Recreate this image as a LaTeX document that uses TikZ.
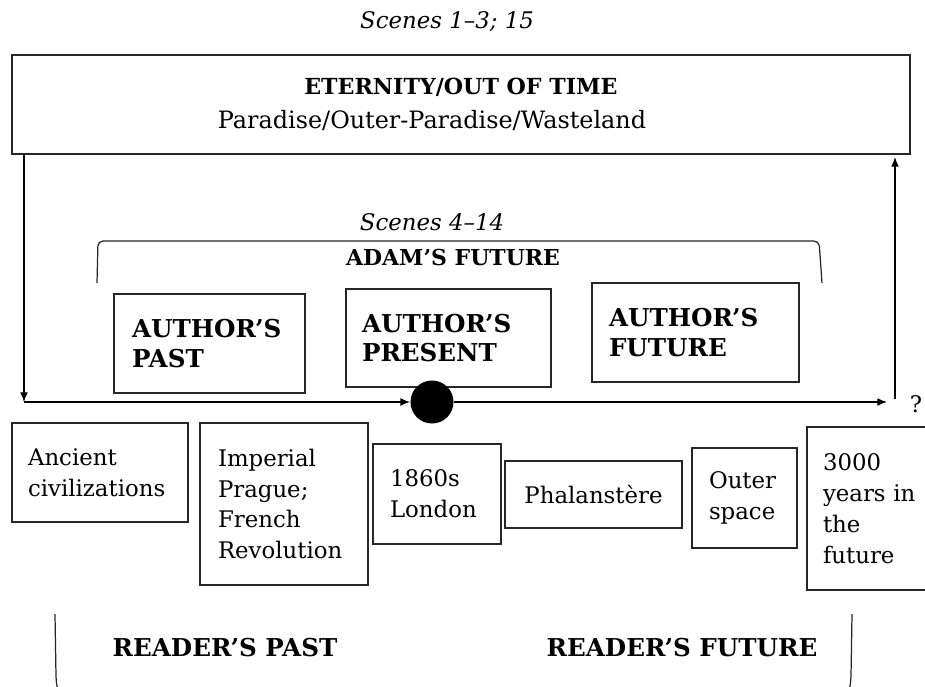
\documentclass[tikz,border=0pt]{standalone}
\usepackage{fontspec}
\setmainfont{DejaVu Serif}
\usetikzlibrary{arrows.meta, positioning}

\begin{document}
\begin{tikzpicture}[x=0.02cm, y=-0.02cm,
  box/.style={draw=black!85, line width=1.1pt, align=left, inner xsep=0.34cm,
    font=\fontsize{13}{17.6}\selectfont},
  authorbox/.style={box, font=\fontsize{14}{17}\selectfont\bfseries},
  scenetag/.style={font=\fontsize{13}{16}\selectfont\itshape},
  headline/.style={font=\fontsize{14}{17}\selectfont\bfseries},
  plain/.style={font=\fontsize{13}{16}\selectfont},
  bracketline/.style={line width=0.7pt, black!85},
  arrow/.style={-{Latex[length=5.5pt, width=4.5pt]}, line width=0.8pt}
]
\useasboundingbox (0,0) rectangle (925,686);

% eternity
\node[scenetag] (scenesout) at (447,22) {Scenes 1--3; 15};
\node[draw=black!85, line width=1.1pt, minimum width=17.96cm, minimum height=1.98cm] (eternity) at (461,104.5) {};
\node[headline, font=\fontsize{12.6}{15}\selectfont\bfseries] (eternitytitle) at (461,87) {ETERNITY/OUT OF TIME};
\node[plain, font=\fontsize{13.6}{16}\selectfont] (eternitysub) at (432,121) {Paradise/Outer-Paradise/Wasteland};

% Adam's future
\node[scenetag] (scenesin) at (432,222) {Scenes 4--14};
\draw[bracketline, rounded corners=0.1cm] (97,283) -- (98,241) -- (819,241) -- (822,283);
\node[headline, font=\fontsize{12.5}{15}\selectfont\bfseries] (adam) at (453,258) {ADAM'S FUTURE};

\node[authorbox, minimum width=3.82cm, minimum height=1.98cm, text width=3.10cm, inner xsep=0.36cm] (authpast) at (209.5,343.5) {AUTHOR'S\\PAST};
\node[authorbox, minimum width=4.10cm, minimum height=1.96cm, text width=3.46cm, inner xsep=0.32cm] (authpresent) at (448.5,338) {AUTHOR'S\\PRESENT};
\node[authorbox, minimum width=4.14cm, minimum height=1.98cm, text width=3.46cm] (authfuture) at (695.5,332.5) {AUTHOR'S\\FUTURE};

% time line
\node[circle, fill=black, minimum size=0.86cm, inner sep=0pt] (now) at (432,402) {};
\coordinate (leftstart) at (24,154);
\coordinate (leftcorner) at (24,402);
\coordinate (rightend) at (887,402);
\coordinate (upstart) at (895,399);
\node[plain] (query) at (916,404) {?};

\draw[arrow] (leftstart) -- (leftcorner);
\draw[arrow] (leftcorner) -- (now);
\draw[arrow] (now) -- (rightend);
\draw[arrow] (upstart) -- (895,157);

% settings
\node[box, minimum width=3.52cm, minimum height=1.98cm, text width=2.88cm, inner xsep=0.32cm] (ancient) at (100,472.5) {Ancient\\civilizations};
\node[box, minimum width=3.36cm, minimum height=3.24cm, text width=2.64cm, inner xsep=0.36cm] (imperial) at (284,504) {Imperial\\Prague;\\French\\Revolution};
\node[box, minimum width=2.56cm, minimum height=2.00cm, text width=1.88cm] (london) at (437,494) {1860s\\London};
\node[box, minimum width=3.54cm, minimum height=1.34cm, text width=2.90cm, inner xsep=0.32cm, align=center] (phalanstere) at (593.5,494.5) {Phalanstère};
\node[box, minimum width=2.10cm, minimum height=2.00cm, text width=1.42cm] (outer) at (744.5,498) {Outer\\space};
\node[box, minimum width=2.56cm, minimum height=3.26cm, text width=1.92cm, inner xsep=0.32cm] (years) at (871,508.5) {3000\\years in\\the\\future};

% reader
\draw[bracketline] (55,614) -- (56,676) .. controls (56.5,684) .. (58,690);
\draw[bracketline] (852,614) -- (851,676) .. controls (850.5,684) .. (849,690);
\node[headline] (readerpast) at (225,648) {READER'S PAST};
\node[headline] (readerfuture) at (682,648) {READER'S FUTURE};

\end{tikzpicture}
\end{document}
